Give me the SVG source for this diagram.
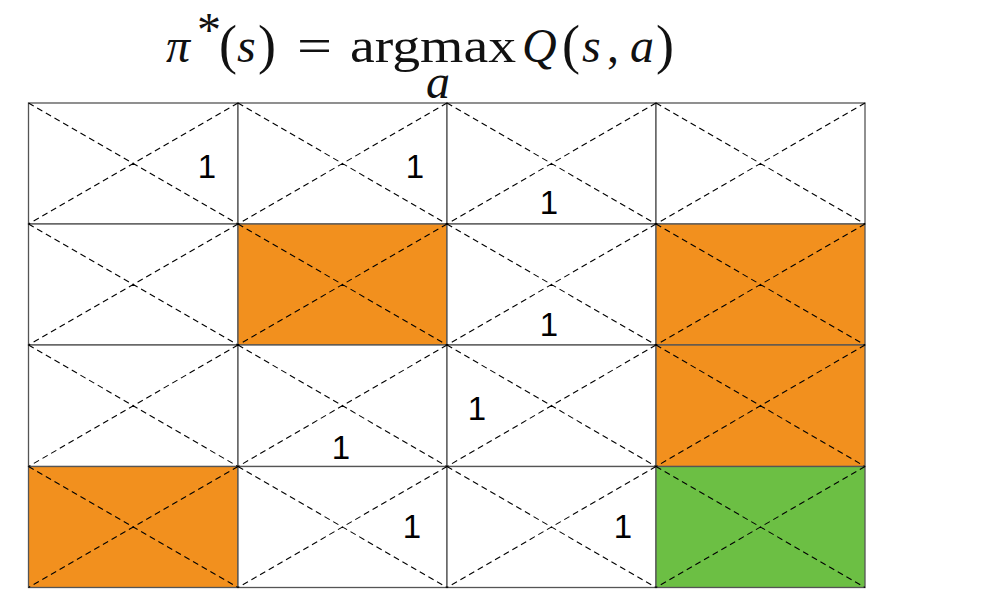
<svg xmlns="http://www.w3.org/2000/svg" width="981" height="594" viewBox="0 0 981 594">
<style>
.cell{stroke:#555;stroke-width:1.3}
.diag{stroke:#000;stroke-width:1.1;stroke-dasharray:6,4;fill:none}
.num{font-family:"Liberation Sans",Arial,sans-serif;font-size:33px;fill:#000;text-anchor:middle}
.m{font-family:"Liberation Serif","DejaVu Serif",serif;fill:#111;font-size:48px}
.p{font-size:54px}
.i{font-style:italic}
.w{fill:#fff}
.o{fill:#F2901E}
.g{fill:#6CBF44}
</style>
<rect width="981" height="594" fill="#fff"/>
<g id="formula">
<text class="m i" x="166" y="62">π</text>
<text class="m" x="197" y="46" font-size="26">*</text>
<text class="m p" x="219" y="63">(</text>
<text class="m i" x="237" y="62">s</text>
<text class="m p" x="258" y="63">)</text>
<text class="m" x="297" y="62" textLength="35" lengthAdjust="spacingAndGlyphs">=</text>
<text class="m" x="350" y="62" textLength="166" lengthAdjust="spacingAndGlyphs">argmax</text>
<text class="m i" x="426" y="98" font-size="24">a</text>
<text class="m i" x="522" y="62">Q</text>
<text class="m p" x="562" y="63">(</text>
<text class="m i" x="582" y="62">s</text>
<text class="m" x="607" y="62">,</text>
<text class="m i" x="630" y="62">a</text>
<text class="m p" x="656" y="63">)</text>
</g>
<g id="cells">
<g id="c00"><rect class="cell w" x="28.5" y="103" width="209.5" height="121"/></g>
<g id="c01"><rect class="cell w" x="238" y="103" width="209" height="121"/></g>
<g id="c02"><rect class="cell w" x="447" y="103" width="209" height="121"/></g>
<g id="c03"><rect class="cell w" x="656" y="103" width="209" height="121"/></g>
<g id="c10"><rect class="cell w" x="28.5" y="224" width="209.5" height="121"/></g>
<g id="c11"><rect class="cell o" x="238" y="224" width="209" height="121"/></g>
<g id="c12"><rect class="cell w" x="447" y="224" width="209" height="121"/></g>
<g id="c13"><rect class="cell o" x="656" y="224" width="209" height="121"/></g>
<g id="c20"><rect class="cell w" x="28.5" y="345" width="209.5" height="121.5"/></g>
<g id="c21"><rect class="cell w" x="238" y="345" width="209" height="121.5"/></g>
<g id="c22"><rect class="cell w" x="447" y="345" width="209" height="121.5"/></g>
<g id="c23"><rect class="cell o" x="656" y="345" width="209" height="121.5"/></g>
<g id="c30"><rect class="cell o" x="28.5" y="466.5" width="209.5" height="121"/></g>
<g id="c31"><rect class="cell w" x="238" y="466.5" width="209" height="121"/></g>
<g id="c32"><rect class="cell w" x="447" y="466.5" width="209" height="121"/></g>
<g id="c33"><rect class="cell g" x="656" y="466.5" width="209" height="121"/></g>
</g>
<g id="connectors">
<path class="diag" d="M28.5 103L238 224M238 103L28.5 224M238 103L447 224M447 103L238 224M447 103L656 224M656 103L447 224M656 103L865 224M865 103L656 224"/>
<path class="diag" d="M28.5 224L238 345M238 224L28.5 345M238 224L447 345M447 224L238 345M447 224L656 345M656 224L447 345M656 224L865 345M865 224L656 345"/>
<path class="diag" d="M28.5 345L238 466.5M238 345L28.5 466.5M238 345L447 466.5M447 345L238 466.5M447 345L656 466.5M656 345L447 466.5M656 345L865 466.5M865 345L656 466.5"/>
<path class="diag" d="M28.5 466.5L238 587.5M238 466.5L28.5 587.5M238 466.5L447 587.5M447 466.5L238 587.5M447 466.5L656 587.5M656 466.5L447 587.5M656 466.5L865 587.5M865 466.5L656 587.5"/>
</g>
<g id="labels">
<text class="num" x="207" y="178">1</text>
<text class="num" x="415" y="178">1</text>
<text class="num" x="549" y="214">1</text>
<text class="num" x="549" y="336">1</text>
<text class="num" x="477" y="420">1</text>
<text class="num" x="341" y="459">1</text>
<text class="num" x="412" y="538">1</text>
<text class="num" x="623" y="538">1</text>
</g>
</svg>
